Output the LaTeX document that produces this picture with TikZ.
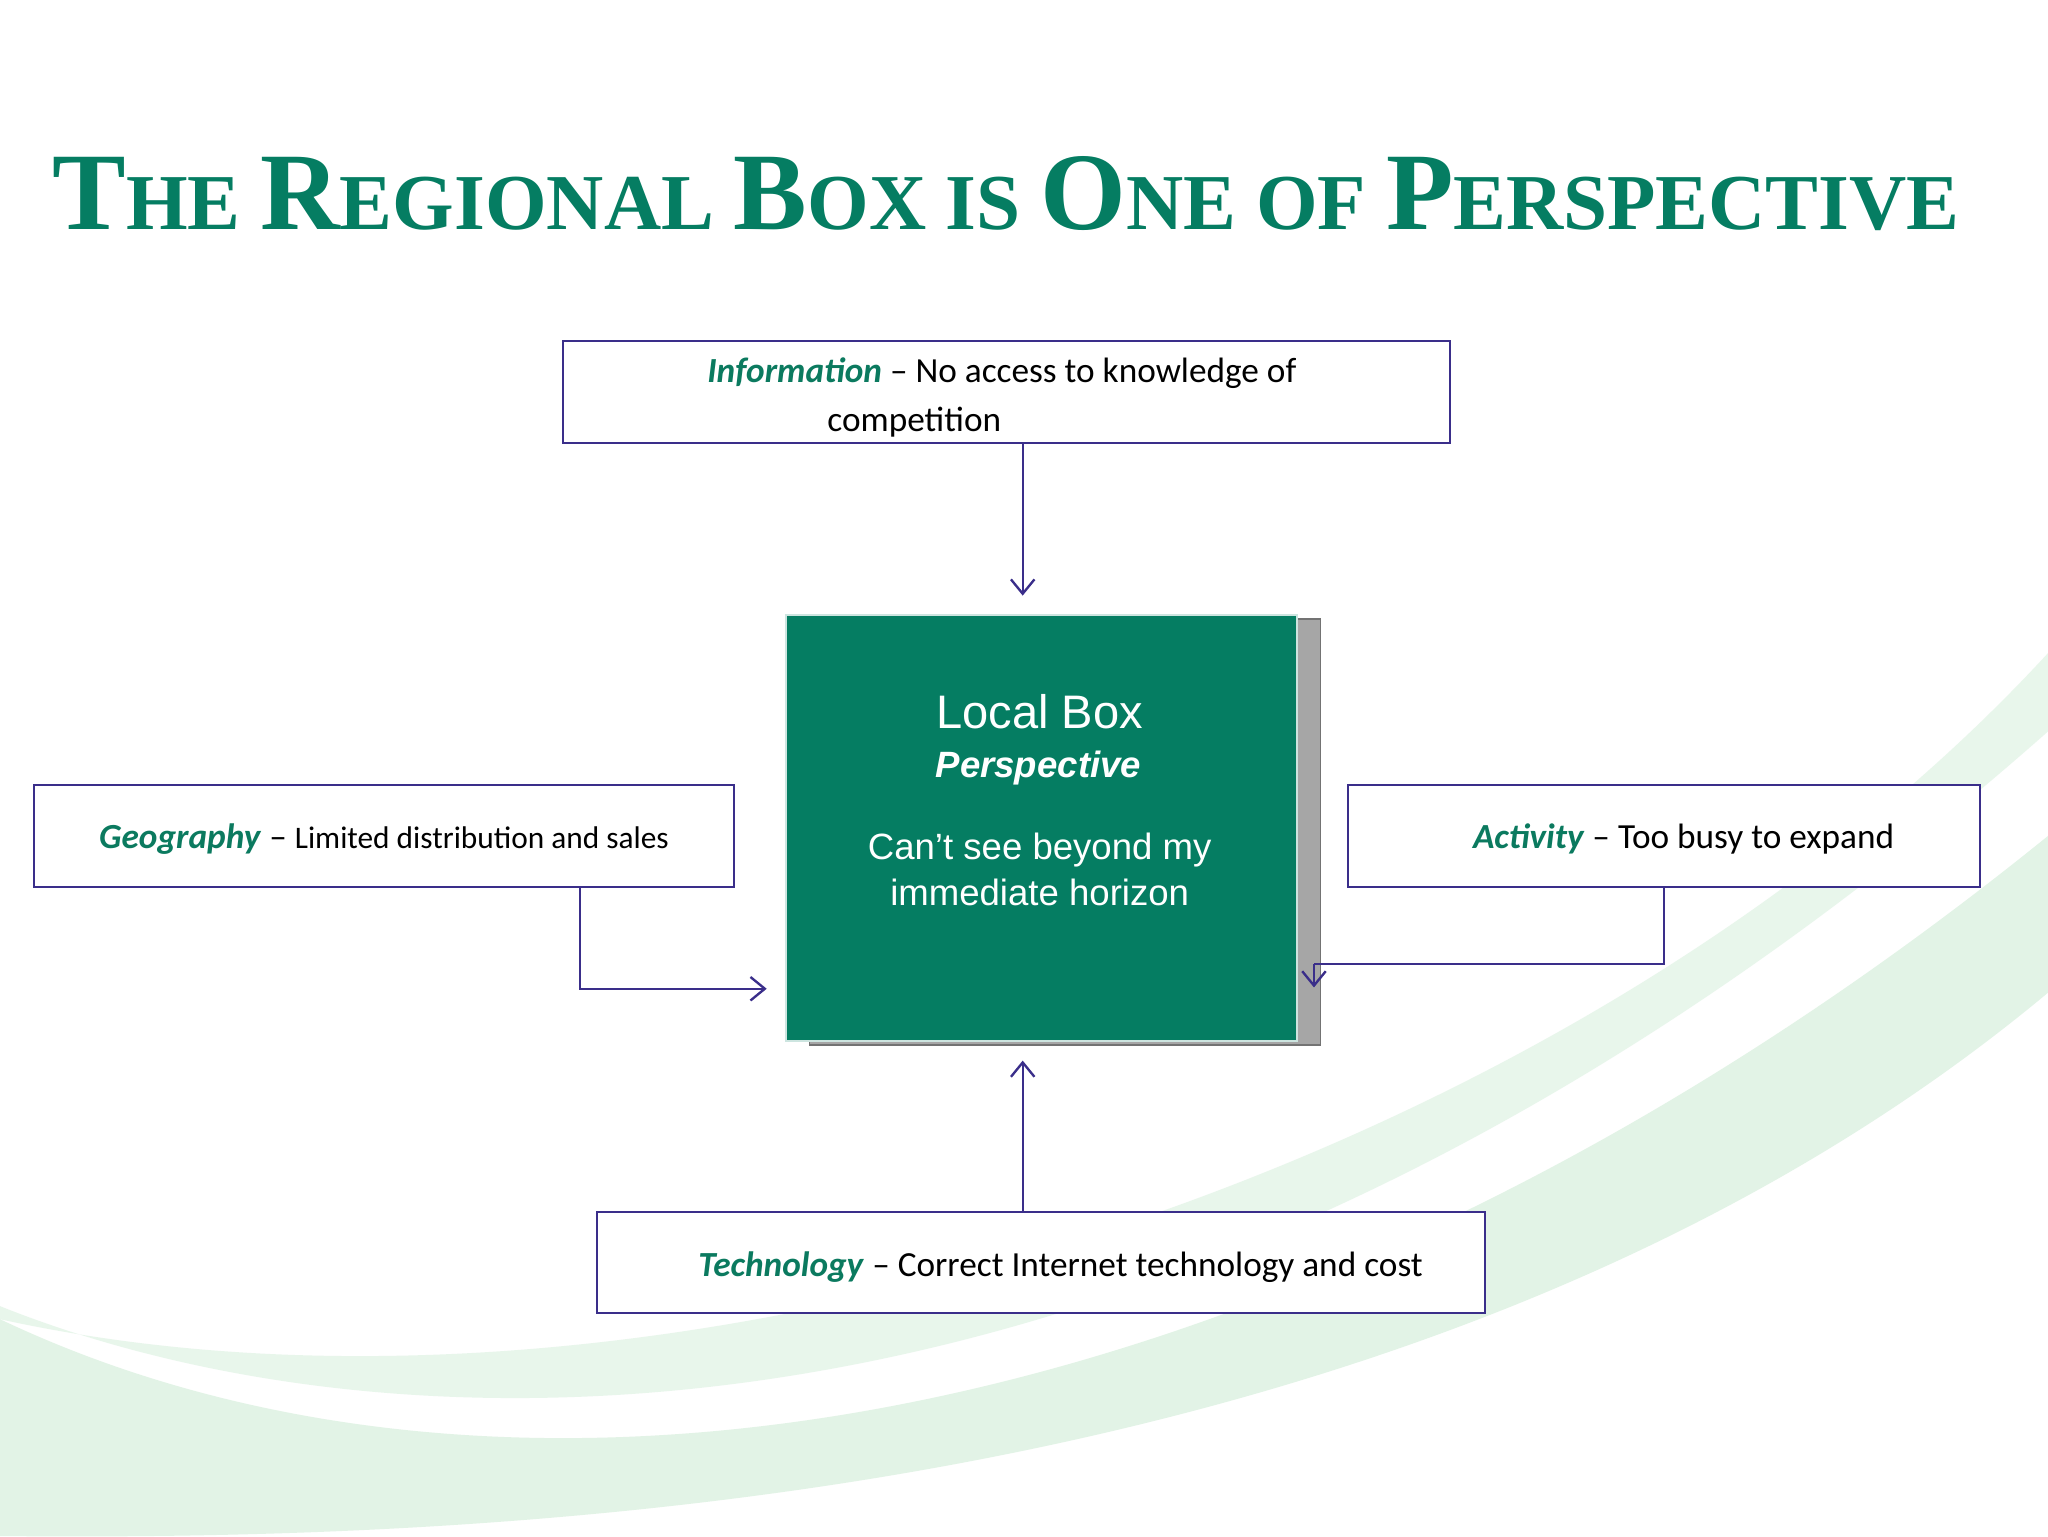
\documentclass[tikz,border=0pt]{standalone}
\usepackage{fontspec}
\setmainfont{Carlito}
\newfontfamily\arialf{Liberation Sans}
\newfontfamily\titlef{Liberation Serif}
\usetikzlibrary{arrows.meta}
\definecolor{teal1}{HTML}{057D62}
\definecolor{tealt}{HTML}{0B7A5F}
\definecolor{bord}{HTML}{3A2E8A}
\definecolor{swoosh}{HTML}{BFE6C8}
\tikzset{
 lbox/.style={draw=bord,line width=1.3pt,fill=white},
 conn/.style={draw=bord,line width=1.3pt},
 arr/.style={conn,-{Straight Barb[length=11pt,width=18pt,line width=1.8pt]}},
 lbl/.style={font=\fontsize{27}{32}\selectfont,text=black,inner sep=0},
 kw/.style={}
}
\newcommand{\kwd}[1]{\textcolor{tealt}{\textbf{\textit{#1}}}}
\begin{document}
\begin{tikzpicture}[x=1pt,y=-1pt]
\useasboundingbox (0,0) rectangle (1568,1176);
\fill[white] (0,0) rectangle (1568,1176);
% swoosh
\fill[swoosh,opacity=0.35] (0,1000) .. controls (300,1120) and (900,1150) .. (1568,560) -- (1568,500) .. controls (1200,900) and (500,1120) .. (0,1010) -- cycle;
\fill[swoosh,opacity=0.45] (0,1010) .. controls (400,1200) and (1000,1100) .. (1568,640) -- (1568,760) .. controls (1100,1150) and (400,1180) .. (0,1176) -- cycle;
% title
\node[anchor=base west,inner sep=0,text=teal1] (title) at (40,176) {\resizebox{1460pt}{!}{\titlef\bfseries
{\fontsize{78}{80}\selectfont T}{\fontsize{56}{60}\selectfont HE }{\fontsize{78}{80}\selectfont R}{\fontsize{56}{60}\selectfont EGIONAL }{\fontsize{78}{80}\selectfont B}{\fontsize{56}{60}\selectfont OX IS }{\fontsize{78}{80}\selectfont O}{\fontsize{56}{60}\selectfont NE OF }{\fontsize{78}{80}\selectfont P}{\fontsize{56}{60}\selectfont ERSPECTIVE}}};
% boxes
\draw[lbox] (431,261) rectangle (1110,339) coordinate (infoBR);
\node[lbl,anchor=base] (info1) at (767,293) {\kwd{Information} – No access to knowledge of};
\node[lbl,anchor=base] (info2) at (700,330) {competition};
\coordinate (infoS) at (783,339);
\coordinate (infoE) at (783,456);
\fill[gray!70] (620,474) rectangle (1011,800);
\draw[gray!90!black,line width=1pt] (620,474) rectangle (1011,800);
\node[draw=white!80!teal1,line width=1.5pt,fill=teal1,minimum width=391pt,minimum height=326pt,anchor=north west] (local) at (601,470) {};
\node[font=\arialf\fontsize{36}{40}\selectfont,text=white,anchor=base] (lt1) at (796,558) {Local Box};
\node[font=\arialf\bfseries\itshape\fontsize{28}{32}\selectfont,text=white,anchor=base] (lt2) at (795,595) {Perspective};
\node[font=\arialf\fontsize{28}{32}\selectfont,text=white,anchor=base] (lt3) at (796,658) {Can’t see beyond my};
\node[font=\arialf\fontsize{28}{32}\selectfont,text=white,anchor=base] (lt4) at (796,693) {immediate horizon};
\draw[lbox] (26,601) rectangle (562,679);
\node[lbl,anchor=base] (geo) at (294,650) {\kwd{Geography} – {\fontsize{24}{28}\selectfont Limited distribution and sales}};
\draw[lbox] (1032,601) rectangle (1516,679);
\node[lbl,anchor=base] (act) at (1289,650) {\kwd{Activity} – Too busy to expand};
\draw[lbox] (457,928) rectangle (1137,1005);
\node[lbl,anchor=base] (tech) at (812,977) {\kwd{Technology} – Correct Internet technology and cost};
% connectors
\draw[arr] (infoS) -- (infoE);
\coordinate (geoS) at (444,679); \coordinate (geoE) at (587,757);
\draw[arr] (geoS) |- (geoE);
\coordinate (actS) at (1274,679); \coordinate (actM) at (1006,738); \coordinate (actE) at (1006,756);
\draw[conn] (actS) |- (actM);
\draw[arr] (actM) -- (actE);
\coordinate (techS) at (783,928); \coordinate (techE) at (783,812);
\draw[arr] (techS) -- (techE);
\end{tikzpicture}
\end{document}
